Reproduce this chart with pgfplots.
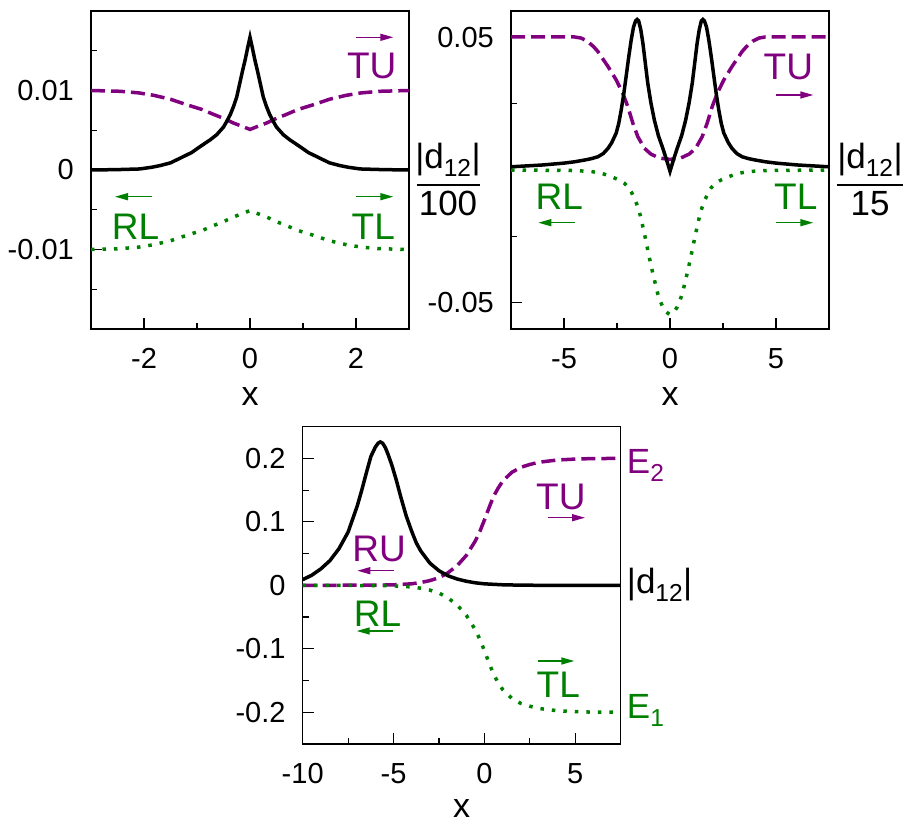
\documentclass[border=0pt]{standalone}
\usepackage{fontspec}
\setmainfont{Liberation Sans}
\usepackage{pgfplots}
\pgfplotsset{compat=1.18}
\usetikzlibrary{arrows.meta}

\definecolor{gpurple}{RGB}{128,0,128}
\definecolor{ggreen}{RGB}{0,128,0}

\pgfplotsset{
  panel/.style={
    scale only axis, width=318pt, height=318pt,
    anchor=south west, scaled ticks=false,
    axis line style={line width=1.2pt},
    tick style={line width=1.2pt, black},
    major tick length=11pt, minor tick length=6pt,
    tick align=inside, xtick pos=left, ytick pos=left,
    ticklabel style={font=\fontsize{29}{35}\selectfont, inner sep=0pt},
    xticklabel style={anchor=base, yshift=-39pt},
    yticklabel style={anchor=east, xshift=-17pt},
    xlabel={x},
    xlabel style={font=\fontsize{34}{40}\selectfont, at={(axis description cs:0.5,0)},
      anchor=base, yshift=-76pt, inner sep=0pt},
  },
  dcurve/.style={black, line width=3.5pt, no marks},
  ucurve/.style={gpurple, line width=3.5pt, no marks, dash pattern=on 14pt off 6pt},
  lcurve/.style={ggreen, line width=3.5pt, no marks, dash pattern=on 3.5pt off 8pt},
}
\tikzset{
  lab/.style={inner sep=0pt, font=\fontsize{37}{44}\selectfont},
  side/.style={inner sep=0pt, font=\fontsize{35}{42}\selectfont},
  arr/.style={line width=1.4pt, -{Triangle[length=13pt,width=7pt]}},
}

\begin{document}
\begin{tikzpicture}
\useasboundingbox (0,0) rectangle (904pt,823pt);

% top left
\begin{axis}[panel, at={(91pt,494pt)},
  xmin=-3, xmax=3, ymin=-0.02, ymax=0.02,
  xtick={-2,0,2}, xticklabels={-2,0,2}, minor xtick={-1,1},
  ytick={-0.01,0,0.01}, yticklabels={-0.01,0,0.01},
  minor ytick={-0.015,-0.005,0.005,0.015}]
\addplot[ucurve] coordinates {
 (-3,0.0100) (-2.45,0.0099) (-2.1,0.0097) (-1.82,0.0094) (-1.5,0.0089)
 (-1.19,0.0082) (-0.9,0.0076) (-0.69,0.0070) (-0.5,0.0065) (-0.31,0.0059)
 (-0.15,0.0055) (0,0.0051) (0.15,0.0055) (0.31,0.0059) (0.5,0.0065)
 (0.69,0.0070) (0.9,0.0076) (1.19,0.0082) (1.5,0.0089) (1.82,0.0094)
 (2.1,0.0097) (2.45,0.0099) (3,0.0100)};
\addplot[lcurve] coordinates {
 (-3,-0.0100) (-2.45,-0.0099) (-2.1,-0.0097) (-1.82,-0.0094) (-1.5,-0.0089)
 (-1.19,-0.0082) (-0.9,-0.0076) (-0.69,-0.0070) (-0.5,-0.0065) (-0.31,-0.0059)
 (-0.15,-0.0055) (0,-0.0051) (0.15,-0.0055) (0.31,-0.0059) (0.5,-0.0065)
 (0.69,-0.0070) (0.9,-0.0076) (1.19,-0.0082) (1.5,-0.0089) (1.82,-0.0094)
 (2.1,-0.0097) (2.45,-0.0099) (3,-0.0100)};
\addplot[dcurve] coordinates {
 (-3,0) (-2.5,0.00005) (-2.08,0.00013) (-1.85,0.00035) (-1.7,0.00055)
 (-1.5,0.0009) (-1.32,0.00148) (-1.1,0.0022) (-0.94,0.00295) (-0.75,0.0038)
 (-0.63,0.00443) (-0.5,0.0054) (-0.44,0.0061) (-0.37,0.0070) (-0.31,0.0080)
 (-0.25,0.0092) (-0.19,0.0110) (-0.14,0.0125) (-0.09,0.0139) (-0.04,0.0155)
 (0,0.0167)
 (0.04,0.0155) (0.09,0.0139) (0.14,0.0125) (0.19,0.0110) (0.25,0.0092)
 (0.31,0.0080) (0.37,0.0070) (0.44,0.0061) (0.5,0.0054) (0.63,0.00443)
 (0.75,0.0038) (0.94,0.00295) (1.1,0.0022) (1.32,0.00148) (1.5,0.0009)
 (1.7,0.00055) (1.85,0.00035) (2.08,0.00013) (2.5,0.00005) (3,0)};
\end{axis}

% top right
\begin{axis}[panel, at={(511pt,494pt)},
  xmin=-7.5, xmax=7.5, ymin=-0.06, ymax=0.06,
  xtick={-5,0,5}, xticklabels={-5,0,5}, minor xtick={-2.5,2.5},
  ytick={-0.05,0.05}, yticklabels={-0.05,0.05},
  minor ytick={-0.025,0.025}]
\addplot[ucurve] coordinates {
 (-7.5,0.0502) (-4.5,0.0502) (-4.2,0.0498) (-3.9,0.0486) (-3.6,0.0465)
 (-3.4,0.0447) (-3.2,0.0423) (-2.92,0.0390) (-2.54,0.0340) (-2.23,0.0290)
 (-1.99,0.0239) (-1.75,0.0176) (-1.52,0.0126) (-1.21,0.0082) (-0.9,0.0060)
 (-0.5,0.0045) (0,0.0040) (0.5,0.0045) (0.9,0.0060) (1.21,0.0082)
 (1.52,0.0126) (1.75,0.0176) (1.99,0.0239) (2.23,0.0290) (2.54,0.0340)
 (2.92,0.0390) (3.2,0.0423) (3.4,0.0447) (3.6,0.0465) (3.9,0.0486)
 (4.2,0.0498) (4.5,0.0502) (7.5,0.0502)};
\addplot[lcurve] coordinates {
 (-7.5,0) (-4.5,-0.0002) (-3.7,-0.0006) (-3.2,-0.0013) (-2.77,-0.0025)
 (-2.4,-0.0038) (-2.15,-0.0050) (-1.95,-0.0066) (-1.83,-0.0082) (-1.65,-0.0112)
 (-1.52,-0.0139) (-1.4,-0.0172) (-1.28,-0.0214) (-1.16,-0.0258) (-1.05,-0.0302)
 (-0.93,-0.0347) (-0.81,-0.0390) (-0.69,-0.0430) (-0.58,-0.0466) (-0.46,-0.0495)
 (-0.34,-0.0517) (-0.22,-0.0532) (-0.11,-0.0540) (0,-0.0545)
 (0.11,-0.0540) (0.22,-0.0532) (0.34,-0.0517) (0.46,-0.0495) (0.58,-0.0466)
 (0.69,-0.0430) (0.81,-0.0390) (0.93,-0.0347) (1.05,-0.0302) (1.16,-0.0258)
 (1.28,-0.0214) (1.4,-0.0172) (1.52,-0.0139) (1.65,-0.0112) (1.83,-0.0082)
 (1.95,-0.0066) (2.15,-0.0050) (2.4,-0.0038) (2.77,-0.0025) (3.2,-0.0013)
 (3.7,-0.0006) (4.5,-0.0002) (7.5,0)};
\addplot[dcurve] coordinates {
 (-7.5,0.0012) (-6,0.0019) (-5,0.0026) (-4.5,0.0031) (-4,0.0038)
 (-3.7,0.0043) (-3.4,0.0050) (-3.15,0.0062) (-2.92,0.0082) (-2.75,0.0103)
 (-2.54,0.0139) (-2.42,0.0175) (-2.3,0.0227) (-2.18,0.0288) (-2.07,0.0353)
 (-1.95,0.0425) (-1.83,0.0491) (-1.72,0.0540) (-1.62,0.0563) (-1.55,0.0568)
 (-1.48,0.0563) (-1.38,0.0530) (-1.28,0.0479) (-1.16,0.0400) (-1.05,0.0328)
 (-0.9,0.0253) (-0.74,0.0189) (-0.55,0.0130) (-0.34,0.0082) (-0.17,0.0040)
 (0,-0.0005)
 (0.17,0.0040) (0.34,0.0082) (0.55,0.0130) (0.74,0.0189) (0.9,0.0253)
 (1.05,0.0328) (1.16,0.0400) (1.28,0.0479) (1.38,0.0530) (1.48,0.0563)
 (1.55,0.0568) (1.62,0.0563) (1.72,0.0540) (1.83,0.0491) (1.95,0.0425)
 (2.07,0.0353) (2.18,0.0288) (2.3,0.0227) (2.42,0.0175) (2.54,0.0139)
 (2.75,0.0103) (2.92,0.0082) (3.15,0.0062) (3.4,0.0050) (3.7,0.0043)
 (4,0.0038) (4.5,0.0031) (5,0.0026) (6,0.0019) (7.5,0.0012)};
\end{axis}

% bottom
\begin{axis}[panel, at={(302.7pt,79pt)}, height=317.3pt,
  xlabel style={yshift=3pt},
  xmin=-10, xmax=7.5, ymin=-0.25, ymax=0.25,
  xtick={-10,-5,0,5}, xticklabels={-10,-5,0,5}, minor xtick={-7.5,-2.5,2.5},
  ytick={-0.2,-0.1,0,0.1,0.2}, yticklabels={-0.2,-0.1,0,0.1,0.2},
  minor ytick={-0.15,-0.05,0.05,0.15}]
\addplot[ucurve] coordinates {
 (-10,0) (-6,0.0003) (-5,0.0008) (-4,0.0025) (-3.5,0.0045) (-3,0.0075)
 (-2.5,0.012) (-2,0.020) (-1.5,0.031) (-1,0.047) (-0.5,0.070) (-0.25,0.085)
 (0,0.103) (0.25,0.122) (0.5,0.140) (0.75,0.153) (1,0.164) (1.5,0.178)
 (2,0.186) (2.5,0.1905) (3,0.194) (4,0.1975) (5,0.199) (6,0.1998) (7.5,0.2)};
\addplot[lcurve] coordinates {
 (-10,0) (-6,-0.0003) (-5,-0.0008) (-4,-0.0025) (-3.5,-0.0045) (-3,-0.0075)
 (-2.5,-0.012) (-2,-0.020) (-1.5,-0.031) (-1,-0.047) (-0.5,-0.070) (-0.25,-0.085)
 (0,-0.103) (0.25,-0.122) (0.5,-0.140) (0.75,-0.153) (1,-0.164) (1.5,-0.178)
 (2,-0.186) (2.5,-0.1905) (3,-0.194) (4,-0.1975) (5,-0.199) (6,-0.1998) (7.5,-0.2)};
\addplot[dcurve] coordinates {
 (-10,0.009) (-9.5,0.016) (-9,0.026) (-8.5,0.039) (-8,0.058) (-7.5,0.084)
 (-7,0.125) (-6.75,0.150) (-6.5,0.177) (-6.25,0.203) (-6,0.218) (-5.85,0.224)
 (-5.73,0.226) (-5.6,0.224) (-5.45,0.217) (-5.31,0.207) (-5.1,0.190)
 (-4.85,0.166) (-4.6,0.139) (-4.3,0.109) (-4,0.085) (-3.75,0.067) (-3.5,0.054)
 (-3,0.035) (-2.5,0.023) (-2,0.015) (-1.5,0.0100) (-1,0.0065) (-0.5,0.0040)
 (0,0.0024) (1,0.0009) (2,0.0003) (3,0.0001) (4,0) (7.5,0)};
\end{axis}

% labels, top left
\node[lab, gpurple] at (371.7pt,757.2pt) {TU};
\draw[arr, gpurple] (356pt,785.7pt) -- (393.3pt,785.7pt);
\node[lab, ggreen] at (135.5pt,596.5pt) {RL};
\draw[arr, ggreen] (151.7pt,626.3pt) -- (115pt,626.3pt);
\node[lab, ggreen] at (373.3pt,596.5pt) {TL};
\draw[arr, ggreen] (356pt,626.3pt) -- (393.3pt,626.3pt);
\node[side, anchor=base] at (448pt,654.7pt) {|d\textsubscript{12}|};
\draw[line width=1.3pt] (416.7pt,638pt) -- (480pt,638pt);
\node[side, anchor=base] at (448pt,607pt) {100};

% labels, top right
\node[lab, gpurple] at (788.3pt,756.3pt) {TU};
\draw[arr, gpurple] (776pt,728pt) -- (813.3pt,728pt);
\node[lab, ggreen] at (559.2pt,626.3pt) {RL};
\draw[arr, ggreen] (575pt,600.3pt) -- (538.3pt,600.3pt);
\node[lab, ggreen] at (795.8pt,626.3pt) {TL};
\draw[arr, ggreen] (776pt,600.3pt) -- (813.3pt,600.3pt);
\node[side, anchor=base] at (870pt,654.7pt) {|d\textsubscript{12}|};
\draw[line width=1.3pt] (836.7pt,638pt) -- (903.3pt,638pt);
\node[side, anchor=base] at (870pt,607pt) {15};

% labels, bottom
\node[side, gpurple, anchor=base west] at (626.7pt,349.7pt) {E\textsubscript{2}};
\node[side, anchor=base west] at (626.7pt,229.7pt) {|d\textsubscript{12}|};
\node[side, ggreen, anchor=base west] at (626.7pt,104.7pt) {E\textsubscript{1}};
\node[lab, gpurple] at (560.8pt,326.3pt) {TU};
\draw[arr, gpurple] (548.3pt,305.3pt) -- (585pt,305.3pt);
\node[lab, gpurple] at (379.2pt,273.7pt) {RU};
\draw[arr, gpurple] (394pt,252.3pt) -- (357.3pt,252.3pt);
\node[lab, ggreen] at (377.5pt,208.8pt) {RL};
\draw[arr, ggreen] (393.3pt,192pt) -- (356.7pt,192pt);
\node[lab, ggreen] at (558.3pt,138pt) {TL};
\draw[arr, ggreen] (537.7pt,162pt) -- (574.3pt,162pt);
\end{tikzpicture}
\end{document}
